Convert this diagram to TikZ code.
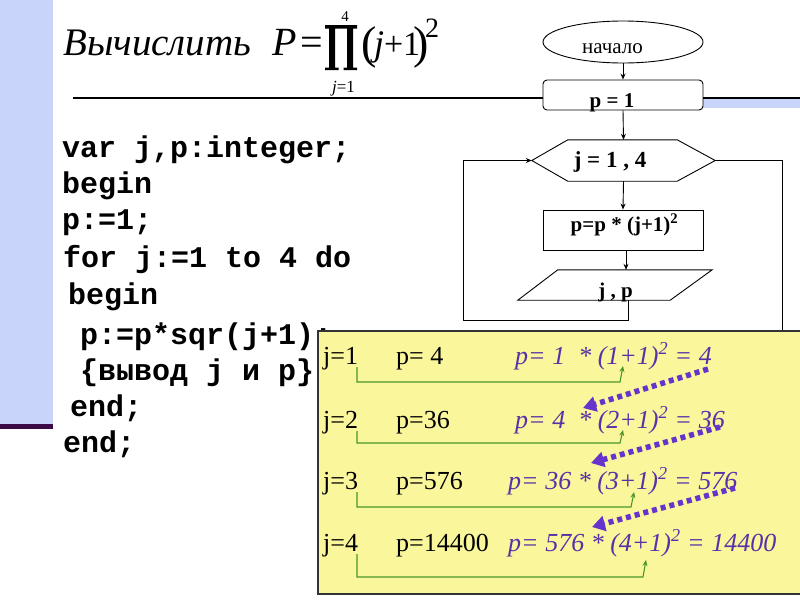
\documentclass[tikz,border=0pt]{standalone}
\usepackage{fontspec}
\usepackage{graphicx}
\setmainfont{Liberation Serif}
\newfontfamily\codefont{Liberation Mono}
\usetikzlibrary{arrows.meta,shapes.geometric}
\definecolor{bandblue}{RGB}{200,212,250}
\definecolor{bandline}{RGB}{60,10,70}
\definecolor{boxyellow}{RGB}{250,246,155}
\definecolor{eqpurple}{RGB}{90,48,168}
\definecolor{dotpurple}{RGB}{102,51,204}
\definecolor{conngreen}{RGB}{74,150,42}
\begin{document}
\begin{tikzpicture}[x=1pt,y=-1pt,
  fc/.style={draw=black, line width=0.9pt},
  arr/.style={draw=black, line width=0.9pt, -{Stealth[length=6pt,width=5pt]}},
  fctext/.style={font=\fontsize{21}{21}\selectfont\bfseries, anchor=base, inner sep=0},
  code/.style={font=\codefont\fontsize{30}{30}\selectfont\bfseries, anchor=base west, inner sep=0},
  rowtext/.style={font=\fontsize{26}{26}\selectfont, anchor=base west, inner sep=0},
  eqtext/.style={font=\fontsize{26}{26}\selectfont\itshape, text=eqpurple, anchor=base west, inner sep=0},
  frm/.style={anchor=base west, inner sep=0},
  garr/.style={draw=conngreen, line width=1.1pt, -{Stealth[length=6pt,width=5pt]}},
  parr/.style={draw=dotpurple, line width=5.5pt, dash pattern=on 5pt off 4pt, -{Triangle[length=13pt,width=15pt]}},
]
\useasboundingbox (0,0) rectangle (800,600);
\fill[white] (0,0) rectangle (800,600);

% left band
\fill[bandblue] (0,0) rectangle (53,427);
\fill[bandline] (0,424) rectangle (53,429);

% top right band
\fill[bandblue] (703,98) rectangle (800,108);

% title and formula
\node[font=\fontsize{39}{39}\selectfont\itshape, anchor=base west, inner sep=0] (title) at (63,55) {Вычислить};
\node[frm, font=\fontsize{40}{40}\selectfont\itshape] (fP) at (272,55) {P};
\node[frm, font=\fontsize{40}{40}\selectfont] (feq) at (300,55) {=};
% product sign
\fill[black] (325,25) -- (357,25) -- (357,28.5) -- (353,28.5) -- (353,67.5) -- (357,67.5) -- (357,70) -- (343.5,70) -- (343.5,67.5) -- (347,67.5) -- (347,28.5) -- (335,28.5) -- (335,67.5) -- (338.5,67.5) -- (338.5,70) -- (325,70) -- (325,67.5) -- (329,67.5) -- (329,28.5) -- (325,28.5) -- cycle;
\node[anchor=base, inner sep=0, font=\fontsize{15}{15}\selectfont] (f4) at (345,21) {4};
\node[anchor=base, inner sep=0, font=\fontsize{17}{17}\selectfont] (flim) at (343.5,92) {\textit{j}=1};
\node[frm, font=\fontsize{46}{46}\selectfont] (fl) at (361,58) {(};
\node[frm, font=\fontsize{36}{36}\selectfont\itshape] (fj) at (374,55) {j};
\node[frm, font=\fontsize{34}{34}\selectfont] (fplus) at (384,55) {+};
\node[frm, font=\fontsize{34}{34}\selectfont] (fone) at (403,55) {1};
\node[frm, font=\fontsize{46}{46}\selectfont] (fr) at (413,58) {)};
\node[frm, font=\fontsize{28}{28}\selectfont] (ftwo) at (425,37) {2};

% flowchart
\node[ellipse, fc, minimum width=160pt, minimum height=42pt, inner sep=0] (start) at (623,42) {};
\node[fctext, font=\fontsize{21}{21}\selectfont] (starttext) at (612.5,53) {начало};
\node[rectangle, rounded corners=4pt, fc, minimum width=160pt, minimum height=30pt, inner sep=0] (p1) at (623,95) {};
\node[fctext] (p1text) at (612,107) {p = 1};
\node[minimum width=183pt, minimum height=41pt, inner sep=0] (hex) at (623.5,160.5) {};
\draw[fc] (hex.west) -- ([xshift=36pt]hex.north west) -- ([xshift=-38pt]hex.north east) -- (hex.east) -- ([xshift=-38pt]hex.south east) -- ([xshift=36pt]hex.south west) -- cycle;
\node[fctext, font=\fontsize{23}{23}\selectfont\bfseries] (hextext) at (610,167) {j = 1 , 4};
\node[rectangle, fc, minimum width=160pt, minimum height=40pt, inner sep=0] (calc) at (623,230) {};
\node[fctext] (calctext) at (624.5,231) {p=p * (j+1)\textsuperscript{2}};
\node[minimum width=194pt, minimum height=30pt, inner sep=0] (io) at (615,285) {};
\draw[fc] (io.south west) -- ([xshift=40pt]io.north west) -- (io.north east) -- ([xshift=-42pt]io.south east) -- cycle;
\node[fctext] (iotext) at (615.5,297) {j , p};

% top line
\draw[line width=1.2pt] (73,98) -- (p1.west |- 0,98);
\draw[line width=1.2pt] (p1.east |- 0,98) -- (800,98);

% connectors
\draw[arr] (start.south) -- (p1.north);
\draw[arr] (p1.south) -- (hex.north);
\draw[arr] (hex.south) -- (calc.north);
\draw[arr] ([xshift=3pt]calc.south) -- ([xshift=3pt]calc.south |- io.north);
\coordinate (lb) at (463,320);
\draw[arr] ([xshift=13pt]io.south) |- (lb) |- (hex.west);
\coordinate (rb) at (782,331);
\draw[fc] (hex.east) -| (rb);

% code
\node[code] (c1) at (62,157) {var j,p:integer;};
\node[code] (c2) at (62,193) {begin};
\node[code] (c3) at (62,229) {p:=1;};
\node[code] (c4) at (63,267) {for j:=1 to 4 do};
\node[code] (c5) at (68,304) {begin};
\node[code] (c6) at (80,344) {p:=p*sqr(j+1);};
\node[code] (c7) at (80,380) {\{вывод j и p\}};
\node[code] (c8) at (70,416) {end;};
\node[code] (c9) at (63,452) {end;};

% yellow box
\fill[boxyellow] (318,331) rectangle (806,594);
\draw[draw=black!80, line width=1.2pt] (806,331) -- (318,331) -- (318,594) -- (806,594);

% rows
\node[rowtext] (j1) at (323,364) {j=1};
\node[rowtext] (pv1) at (396,364) {p= 4};
\node[eqtext] (e1) at (515,364) {p= 1 \ * (1+1)\textsuperscript{2} = 4};
\node[rowtext] (j2) at (323,428) {j=2};
\node[rowtext] (pv2) at (396,428) {p=36};
\node[eqtext] (e2) at (515,428) {p= 4 \ * (2+1)\textsuperscript{2} = 36};
\node[rowtext] (j3) at (323,489) {j=3};
\node[rowtext] (pv3) at (396,489) {p=576};
\node[eqtext] (e3) at (508,489) {p= 36 * (3+1)\textsuperscript{2} = 576};
\node[rowtext] (j4) at (323,551) {j=4};
\node[rowtext] (pv4) at (396,551) {p=14400};
\node[eqtext] (e4) at (508,551) {p= 576 * (4+1)\textsuperscript{2} = 14400};

% green connectors
\coordinate (g1s) at (357,367); \coordinate (g1e) at (623,366);
\draw[garr] (g1s) -- (357,382) -- (620,382) -- (g1e);
\coordinate (g2s) at (357,431); \coordinate (g2e) at (623,430);
\draw[garr] (g2s) -- (357,443) -- (620,443) -- (g2e);
\coordinate (g3s) at (357,492); \coordinate (g3e) at (634,492);
\draw[garr] (g3s) -- (357,507) -- (631,507) -- (g3e);
\coordinate (g4s) at (357,554); \coordinate (g4e) at (646,560);
\draw[garr] (g4s) -- (357,577) -- (643,577) -- (g4e);

% purple dotted arrows
\coordinate (d1s) at (708,369); \coordinate (d1e) at (583,408);
\draw[parr] (d1s) -- (d1e);
\coordinate (d2s) at (720,427); \coordinate (d2e) at (591,463);
\draw[parr] (d2s) -- (d2e);
\coordinate (d3s) at (735,488); \coordinate (d3e) at (592,527);
\draw[parr] (d3s) -- (d3e);
\end{tikzpicture}
\end{document}
